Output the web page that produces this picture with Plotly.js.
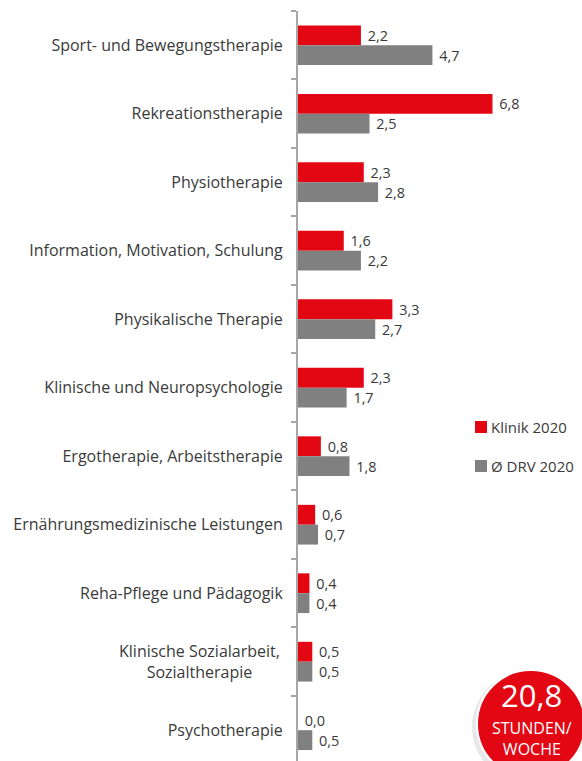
<!DOCTYPE html>
<html>
<head>
<meta charset="utf-8">
<script src="https://cdn.plot.ly/plotly-3.0.1.min.js"></script>
<style>html,body{margin:0;padding:0;background:#fff;}#chart{width:582px;height:761px;}</style>
</head>
<body>
<div id="chart"></div>
<script>
const categories = [
  "Sport- und Bewegungstherapie",
  "Rekreationstherapie",
  "Physiotherapie",
  "Information, Motivation, Schulung",
  "Physikalische Therapie",
  "Klinische und Neuropsychologie",
  "Ergotherapie, Arbeitstherapie",
  "Ernährungsmedizinische Leistungen",
  "Reha-Pflege und Pädagogik",
  "Klinische Sozialarbeit,<br>Sozialtherapie",
  "Psychotherapie"
];
const klinik2020 = [2.2, 6.8, 2.3, 1.6, 3.3, 2.3, 0.8, 0.6, 0.4, 0.5, 0.0];
const drv2020 = [4.7, 2.5, 2.8, 2.2, 2.7, 1.7, 1.8, 0.7, 0.4, 0.5, 0.5];
const seriesNames = ["Klinik 2020", "Ø DRV 2020"];
const seriesColors = ['#e30613', '#808080'];
const totalValue = "20,8";
const totalUnit = "STUNDEN/<br>WOCHE";

const fmt = v => v.toFixed(1).replace('.', ',');
const FONT = "Open Sans, sans-serif";
const TXT = "#3a3a3a";

// plot area in pixels (for placing overlay items)
const W = 582, H = 761, ML = 298, MT = 11;
const PW = W - ML, PH = H - MT;
const px = x => (x - ML) / PW;          // pixel x -> paper
const py = y => (H - y) / PH;           // pixel y -> paper

const traces = [klinik2020, drv2020].map((vals, i) => ({
  type: 'bar', orientation: 'h', name: seriesNames[i],
  y: categories, x: vals,
  text: vals.map(fmt), texttemplate: '\u00a0%{text}', textposition: 'outside', cliponaxis: false,
  textfont: {family: FONT, size: 16, color: TXT},
  marker: {color: seriesColors[i]}, hoverinfo: 'none'
}));

// multi-line category labels are drawn centred (as in the original) via annotations
const multiLine = categories.filter(c => c.includes('<br>'));
const catAnnotations = multiLine.map(c => ({
  xref: 'paper', yref: 'y', x: px(282), y: c, xanchor: 'right', yanchor: 'middle',
  align: 'center', text: c, showarrow: false, font: {family: FONT, size: 16, color: TXT}
}));

const legendShapes = seriesNames.map((n, i) => ({
  type: 'rect', xref: 'paper', yref: 'paper', xsizemode: 'pixel', ysizemode: 'pixel',
  xanchor: px(481), yanchor: py(427 + 39 * i), x0: -6, x1: 6, y0: -6, y1: 6,
  fillcolor: seriesColors[i], line: {width: 0}
}));
const legendTexts = seriesNames.map((n, i) => ({
  xref: 'paper', yref: 'paper', x: px(489), y: py(427 + 39 * i), xanchor: 'left', yanchor: 'middle',
  text: n, showarrow: false, font: {family: FONT, size: 15, color: TXT}
}));

const layout = {
  width: W, height: H,
  margin: {l: ML, r: 0, t: MT, b: 0, autoexpand: false},
  paper_bgcolor: '#fff', plot_bgcolor: '#fff',
  font: {family: FONT, size: 16, color: TXT},
  barmode: 'group', bargap: 0.42, bargroupgap: 0,
  showlegend: false,
  xaxis: {
    range: [0, 9.93], showgrid: false, zeroline: false, automargin: false,
    showticklabels: false, ticks: '', showline: false, fixedrange: true
  },
  yaxis: {
    type: 'category', range: [10.45, -0.5], automargin: false,
    tickmode: 'array', tickvals: categories,
    ticktext: categories.map(c => c.includes('<br>') ? '' : c),
    showline: true, linecolor: '#a6a6a6', linewidth: 2,
    ticks: 'outside', tickson: 'boundaries', ticklen: 5, tickcolor: '#a6a6a6', tickwidth: 2,
    showgrid: false, zeroline: false, ticklabelstandoff: 10,
    tickfont: {family: FONT, size: 16, color: TXT}
  },
  shapes: [
    {type: 'circle', xref: 'paper', yref: 'paper', xsizemode: 'pixel', ysizemode: 'pixel',
     xanchor: px(528), yanchor: py(727), x0: -56, x1: 56, y0: -56, y1: 56,
     fillcolor: 'rgba(0,0,0,0.09)', line: {width: 0}},
    {type: 'circle', xref: 'paper', yref: 'paper', xsizemode: 'pixel', ysizemode: 'pixel',
     xanchor: px(531), yanchor: py(724), x0: -54, x1: 54, y0: -54, y1: 54,
     fillcolor: '#e30613', line: {color: '#ffffff', width: 2}}
  ].concat(legendShapes),
  annotations: [
    {xref: 'paper', yref: 'paper', x: px(531), y: py(695), xanchor: 'center', yanchor: 'middle',
     text: totalValue, showarrow: false, font: {family: FONT, size: 31, color: '#ffffff'}},
    {xref: 'paper', yref: 'paper', x: px(532), y: py(738), xanchor: 'center', yanchor: 'middle',
     text: totalUnit, showarrow: false, font: {family: FONT, size: 16, color: '#ffffff'}}
  ].concat(legendTexts, catAnnotations)
};

Plotly.newPlot('chart', traces, layout, {displayModeBar: false, staticPlot: true});
</script>
</body>
</html>
